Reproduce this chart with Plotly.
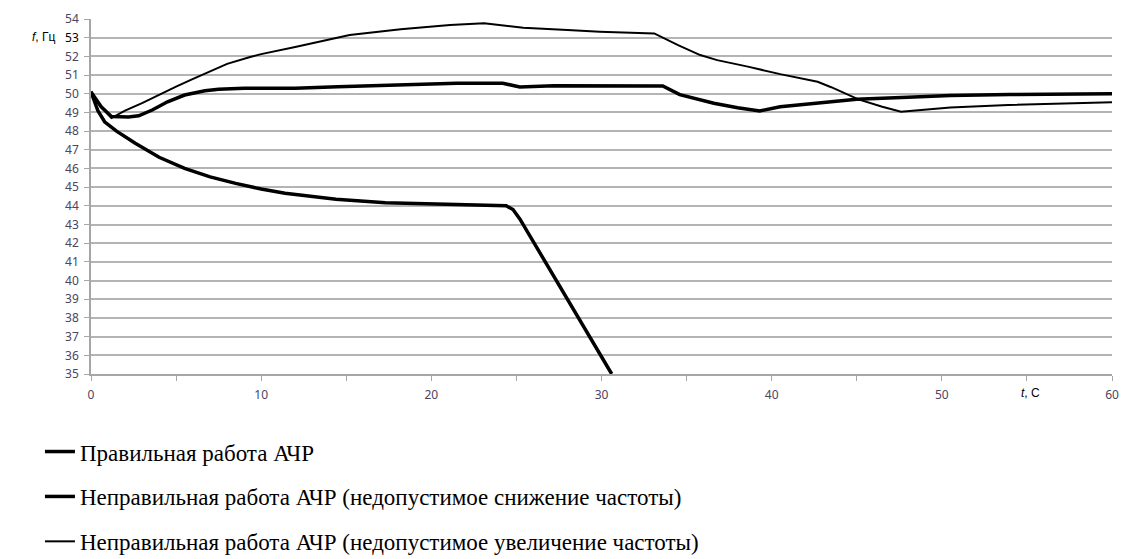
import plotly.graph_objects as go

# --- Data ---
t_correct = [0, 0.6, 1.2, 2.2, 2.8, 3.6, 4.5, 5.5, 6.7, 7.5, 9, 12, 14.5, 17, 20, 21.5, 24.2,
             25.2, 27.2, 33, 33.6, 34.6, 35.8, 36.6, 38, 39.3, 40.5, 42.7, 45, 48, 50.5, 54, 60]
f_correct = [50.1, 49.3, 48.78, 48.75, 48.82, 49.13, 49.57, 49.93, 50.16, 50.24, 50.29, 50.3,
             50.38, 50.43, 50.5, 50.56, 50.56, 50.36, 50.43, 50.45, 50.42, 49.95, 49.66, 49.49,
             49.25, 49.08, 49.3, 49.49, 49.7, 49.81, 49.9, 49.96, 50.0]

t_low = [0, 0.4, 0.8, 1.5, 2.6, 4, 5.5, 7, 8.5, 10, 11.4, 14.4, 17.3, 20.1, 22.5, 24.4, 24.8,
         25.2, 30.6]
f_low = [50.1, 49.1, 48.5, 48.0, 47.35, 46.6, 46.0, 45.55, 45.2, 44.9, 44.67, 44.35, 44.17,
         44.1, 44.02, 44.0, 43.8, 43.3, 35.0]

t_high = [0, 0.6, 1.2, 2, 3, 4, 5, 6, 7, 8, 9.35, 10, 12, 13.5, 15.2, 18.2, 21.1, 23.1, 25.4,
          28, 29.9, 33.1, 34.5, 35.8, 36.8, 38.6, 40.5, 42.7, 43.5, 45.1, 46.5, 47.6, 50.5,
          53.9, 58.4, 60]
f_high = [50.1, 49.3, 48.7, 49.1, 49.5, 49.95, 50.38, 50.8, 51.2, 51.6, 51.97, 52.12, 52.5,
          52.8, 53.14, 53.45, 53.68, 53.77, 53.53, 53.41, 53.32, 53.23, 52.6, 52.07, 51.8,
          51.45, 51.05, 50.64, 50.35, 49.7, 49.3, 49.04, 49.27, 49.4, 49.54, 49.55]

names = ["Правильная работа АЧР",
         "Неправильная работа АЧР (недопустимое снижение частоты)",
         "Неправильная работа АЧР (недопустимое увеличение частоты)"]

y_ticks = list(range(35, 55))
x_ticks = list(range(0, 61, 5))
x_labels = [str(v) if v % 10 == 0 else "" for v in x_ticks]

tick_color = "#4a4560"
y_labels = [('<span style="color:black">%d</span>' % v) if v == 53 else str(v)
            for v in y_ticks]


def serif_name(s):
    return '<span style="font-family:Liberation Serif">%s</span>' % s


fig = go.Figure()
fig.add_trace(go.Scatter(x=t_correct, y=f_correct, mode="lines", name=serif_name(names[0]),
                         line=dict(color="black", width=3.5), legendgroup="a"))
fig.add_trace(go.Scatter(x=t_low, y=f_low, mode="lines", name=serif_name(names[1]),
                         line=dict(color="black", width=3.5), legendgroup="b"))
fig.add_trace(go.Scatter(x=t_high, y=f_high, mode="lines", name=serif_name(names[2]),
                         line=dict(color="black", width=2), legendgroup="c"))

fig.update_layout(
    width=1123, height=559,
    margin=dict(l=91, r=11, t=19, b=185, autoexpand=False),
    paper_bgcolor="white", plot_bgcolor="white",
    font=dict(family="Noto Sans", size=12, color=tick_color),
    showlegend=True,
    legend=dict(x=-0.05, y=-0.158, xanchor="left", yanchor="top",
                font=dict(family="Liberation Serif", size=23, color="black"),
                tracegroupgap=12, bgcolor="rgba(0,0,0,0)"),
    xaxis=dict(range=[0, 60], tickvals=x_ticks, ticktext=x_labels, showgrid=False,
               showline=True, linecolor="#a6a6a6", linewidth=1.5,
               ticks="outside", ticklen=5, tickcolor="#a6a6a6", automargin=False,
               ticklabelstandoff=4,
               tickfont=dict(family="Noto Sans", size=12, color=tick_color), zeroline=False),
    yaxis=dict(range=[35, 54], tickvals=y_ticks, ticktext=y_labels, showgrid=True,
               gridcolor="#b4b4b4", gridwidth=1.5, automargin=False,
               showline=True, linecolor="#a6a6a6", linewidth=1.5,
               ticks="outside", ticklen=5, tickcolor="#a6a6a6", ticklabelstandoff=3,
               tickfont=dict(family="Noto Sans", size=12, color=tick_color), zeroline=False),
    annotations=[
        dict(text="<i>f</i>, Гц", xref="paper", yref="paper", x=(44 - 91) / 1021,
             y=(374 - 37) / 355, xanchor="center", yanchor="middle", showarrow=False,
             font=dict(family="Liberation Sans", size=12, color="black")),
        dict(text="<i>t</i>, C", xref="paper", yref="paper", x=(1030 - 91) / 1021,
             y=(374 - 393) / 355, xanchor="center", yanchor="middle", showarrow=False,
             font=dict(family="Liberation Sans", size=12, color="black")),
    ],
)

fig.write_html("out.html", config={"displayModeBar": False},
               post_script="document.body.style.margin='0px';document.body.style.overflow='hidden';")
